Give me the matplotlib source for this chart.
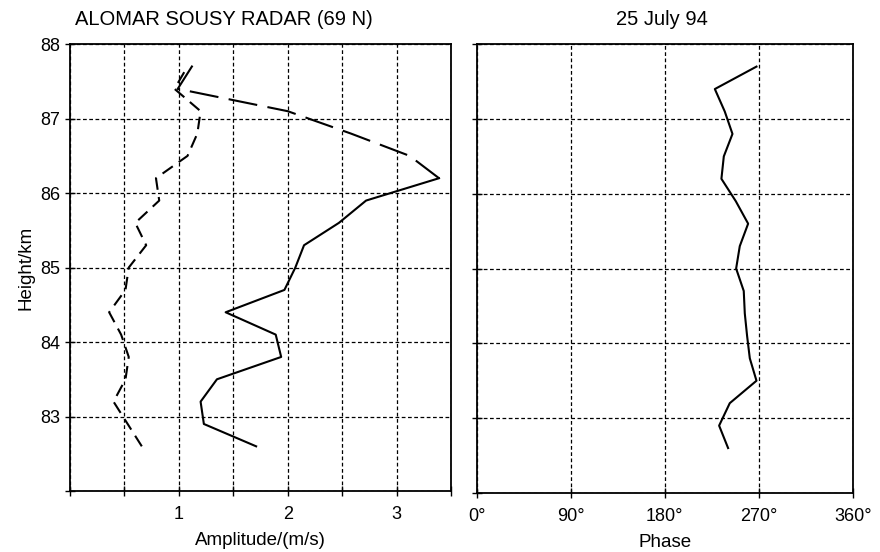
import matplotlib.pyplot as plt

plt.rcParams['font.family'] = ['Liberation Sans', 'DejaVu Sans']

# heights of the radar range gates (km)
height = [82.6, 82.9, 83.2, 83.5, 83.8, 84.1, 84.4, 84.7, 85.0,
          85.3, 85.6, 85.9, 86.2, 86.5, 86.8, 87.1, 87.4, 87.7]

# amplitude, solid curve (m/s)
amp_solid = [1.71, 1.23, 1.20, 1.35, 1.94, 1.89, 1.43, 1.97, 2.07,
             2.15, 2.47, 2.72, 3.39, 3.12, 2.58, 2.00, 0.99, 1.12]

# amplitude, dashed curve (m/s)
amp_dashed = [0.66, 0.53, 0.40, 0.51, 0.54, 0.47, 0.36, 0.51, 0.54,
              0.70, 0.60, 0.82, 0.79, 1.08, 1.17, 1.20, 0.96, 1.08]

# phase (deg)
phase = [240.6, 232.0, 242.2, 267.8, 261.4, 258.8, 256.6, 255.6, 248.3,
         251.8, 259.8, 248.0, 234.2, 236.5, 244.8, 237.4, 227.9, 267.8]

amp_ticks = [0, 0.5, 1, 1.5, 2, 2.5, 3, 3.5]
amp_labels = ['', '', '1', '', '2', '', '3', '']
phase_ticks = [0, 90, 180, 270, 360]
phase_labels = ['0°', '90°', '180°', '270°', '360°']
height_ticks = [82, 83, 84, 85, 86, 87, 88]
height_labels = ['', '83', '84', '85', '86', '87', '88']

fig = plt.figure(figsize=(8.8, 5.52), dpi=100)
ax1 = fig.add_axes([0.0795, 0.1105, 0.433, 0.8095])
ax2 = fig.add_axes([0.542, 0.107, 0.427, 0.813])

grid_kw = dict(color='black', linestyle=(0, (3, 2)), linewidth=0.9)

for ax in (ax1, ax2):
    ax.set_ylim(82, 88)
    ax.set_yticks(height_ticks)
    ax.grid(True, **grid_kw)
    ax.tick_params(direction='inout', length=7, width=1, labelsize=13, colors='black')
    ax.tick_params(axis='x', pad=7)
    for s in ax.spines.values():
        s.set_linewidth(1.3)
    ax.set_axisbelow(True)

ax1.set_xlim(0, 3.5)
ax1.set_xticks(amp_ticks)
ax1.set_xticklabels(amp_labels)
ax1.set_yticklabels(height_labels)

# dashed curve
ax1.plot(amp_dashed, height, color='black', linewidth=1.5, linestyle=(0, (6, 3.5)))
# solid curve, with the long-dashed stretch between 86.2 and 87.4 km
ax1.plot(amp_solid[:13], height[:13], color='black', linewidth=1.5)
ax1.plot(amp_solid[12:17], height[12:17], color='black', linewidth=1.5, linestyle=(0, (14, 5)))
ax1.plot(amp_solid[16:], height[16:], color='black', linewidth=1.5)

ax2.set_xlim(0, 360)
ax2.set_xticks(phase_ticks)
ax2.set_xticklabels(phase_labels)
ax2.set_yticklabels([])
ax2.plot(phase, height, color='black', linewidth=1.5)

ax1.set_xlabel('Amplitude/(m/s)', fontsize=13.5, labelpad=7)
ax2.set_xlabel('Phase', fontsize=13.5, labelpad=7)
ax1.set_ylabel('Height/km', fontsize=13.5, labelpad=4)

fig.text(0.085, 0.964, 'ALOMAR SOUSY RADAR (69 N)', fontsize=14.5, ha='left', va='center')
fig.text(0.752, 0.964, '25 July 94', fontsize=14.5, ha='center', va='center')

fig.savefig('out.png', dpi=100)
